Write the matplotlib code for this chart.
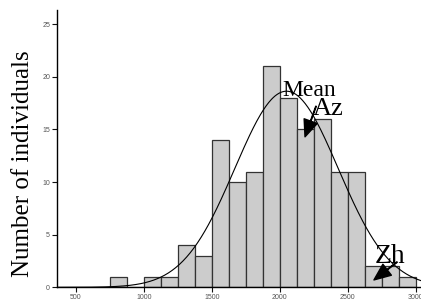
import numpy as np
import matplotlib
matplotlib.use("Agg")
import matplotlib.pyplot as plt

# Histogram data (bin left edges, width 125)
bin_left = [750, 875, 1000, 1125, 1250, 1375, 1500, 1625, 1750, 1875,
            2000, 2125, 2250, 2375, 2500, 2625, 2750, 2875]
counts = [1, 0, 1, 1, 4, 3, 14, 10, 11, 21, 18, 15, 16, 11, 11, 2, 2, 1]
bin_width = 125
mean_val = 2050
sd_val = 380
x_ticks = [500, 1000, 1500, 2000, 2500, 3000]
y_ticks = [0, 5, 10, 15, 20, 25]

fig = plt.figure(figsize=(4.21, 2.99), dpi=100)
ax = fig.add_axes([57/421, (299-287.3)/299, 1-57/421, (287.3-10)/299])

ax.bar(bin_left, counts, width=bin_width, align='edge', color='#cccccc',
       edgecolor='#333333', linewidth=0.9, zorder=2)

xs = np.linspace(362, 3040, 400)
n = sum(counts)
pdf = n * bin_width / (sd_val * np.sqrt(2 * np.pi)) * np.exp(-0.5 * ((xs - mean_val) / sd_val) ** 2)
ax.plot(xs, pdf, color='black', linewidth=0.8, zorder=3)

ax.set_xlim(362, 3039)
ax.set_ylim(0, 26.35)
ax.set_xticks(x_ticks)
ax.set_yticks(y_ticks)
ax.tick_params(axis='both', labelsize=5, colors='#111111', labelcolor='#555555',
               length=3.5, width=0.8, pad=1.5)
for lbl in ax.get_xticklabels() + ax.get_yticklabels():
    lbl.set_family('Liberation Sans')
ax.spines['top'].set_visible(False)
ax.spines['right'].set_visible(False)
ax.spines['left'].set_linewidth(1.0)
ax.spines['bottom'].set_linewidth(1.0)

ax.set_ylabel('Number of individuals', family='Liberation Serif', fontsize=18)
ax.yaxis.set_label_coords(-0.063, 0.445)

serif = 'Liberation Serif'
ax.text(2017, 18.2, 'Mean', family=serif, fontsize=17, zorder=5)
ax.text(2245, 16.4, 'Az', family=serif, fontsize=19, zorder=5)
ax.text(2700, 2.28, 'Zh', family=serif, fontsize=20, zorder=5)
arrow = dict(facecolor='black', edgecolor='black', width=0.4, headwidth=10,
             headlength=12, shrink=0)
ax.annotate('', xy=(2186, 14.3), xytext=(2267, 17.2), arrowprops=arrow, zorder=6)
ax.annotate('', xy=(2693, 0.7), xytext=(2863, 2.4), arrowprops=arrow, zorder=6)

fig.savefig('out.png', dpi=100)
